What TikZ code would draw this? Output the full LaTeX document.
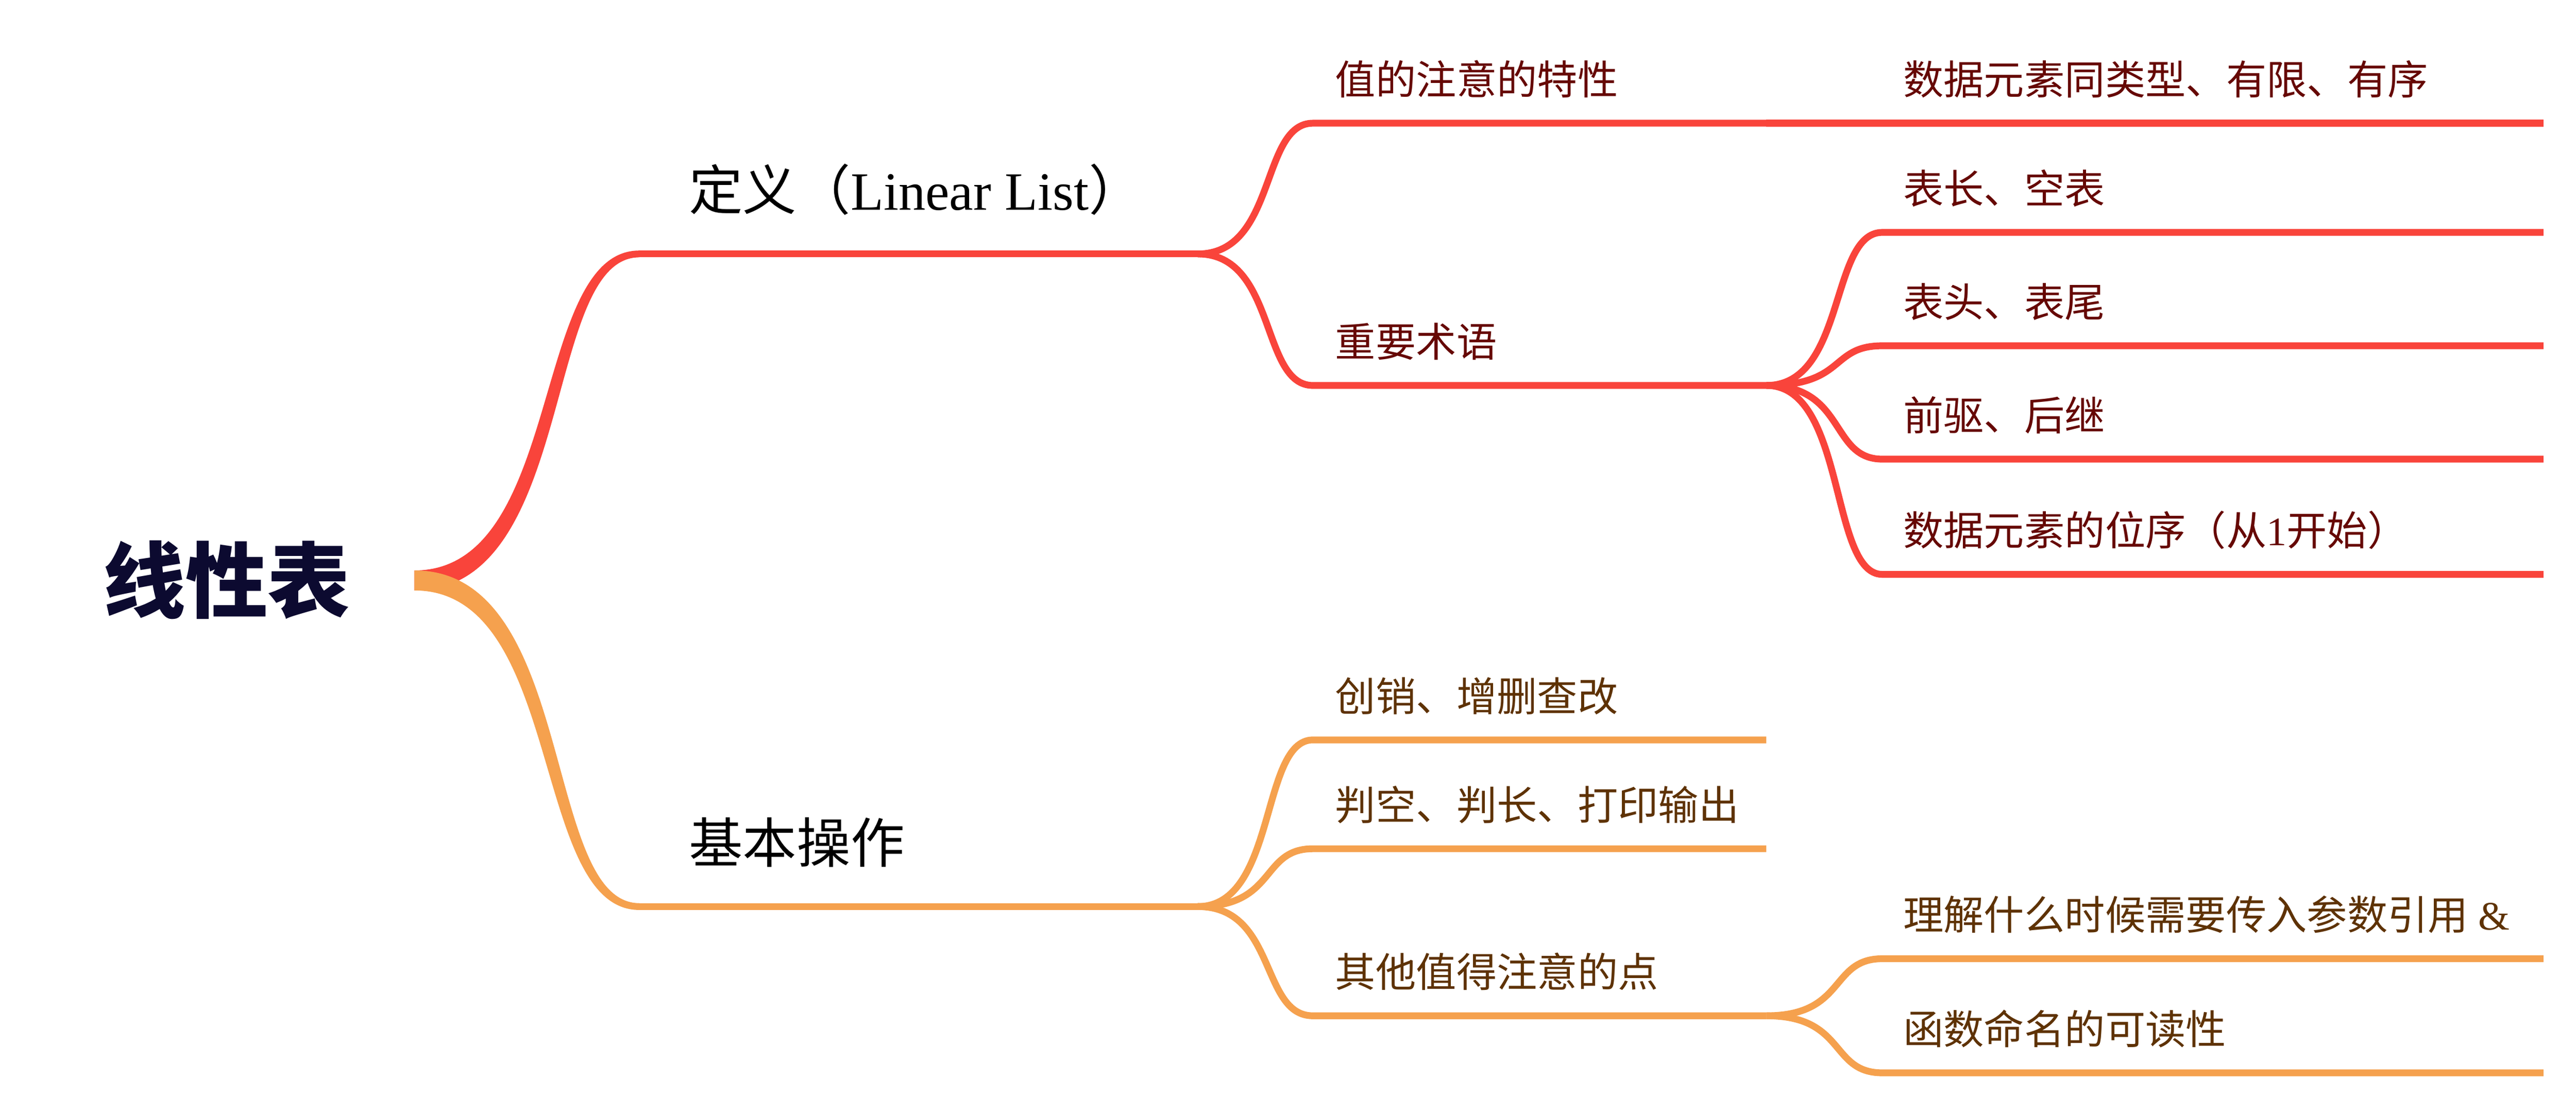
\documentclass[tikz,border=0pt]{standalone}
\usepackage{fontspec}
\setmainfont{Noto Sans CJK SC}
\newfontfamily\enserif{Liberation Serif}
\definecolor{branchred}{RGB}{249,68,59}
\definecolor{branchorange}{RGB}{245,161,78}
\definecolor{textred}{RGB}{102,8,4}
\definecolor{textbrown}{RGB}{94,50,4}
\definecolor{rootnavy}{RGB}{12,10,48}
\tikzset{
  redline/.style={draw=branchred,line width=0.9mm},
  orangeline/.style={draw=branchorange,line width=0.9mm},
  maintopic/.style={anchor=base west,inner sep=0pt,font=\fontsize{20.3}{24}\selectfont},
  subtopic/.style={anchor=base west,inner sep=0pt,font=\fontsize{15.2}{18}\selectfont},
}
\begin{document}
\begin{tikzpicture}
\useasboundingbox (0,0) rectangle (34.09,14.71);
% start and end of every underline
\coordinate (root-e) at (5.485,7.03);
\coordinate (def-s) at (8.46,11.35);   \coordinate (def-e) at (15.85,11.35);
\coordinate (ops-s) at (8.46,2.715);   \coordinate (ops-e) at (15.85,2.715);
\coordinate (val-s) at (17.375,13.08); \coordinate (val-e) at (23.375,13.08);
\coordinate (term-s) at (17.375,9.61); \coordinate (term-e) at (23.375,9.61);
\coordinate (crud-s) at (17.375,4.92); \coordinate (crud-e) at (23.375,4.92);
\coordinate (chk-s) at (17.375,3.48);  \coordinate (chk-e) at (23.375,3.48);
\coordinate (misc-s) at (17.375,1.27); \coordinate (misc-e) at (23.375,1.27);
\coordinate (same-s) at (24.91,13.08); \coordinate (same-e) at (33.66,13.08);
\coordinate (len-s) at (24.91,11.635); \coordinate (len-e) at (33.66,11.635);
\coordinate (head-s) at (24.91,10.135);\coordinate (head-e) at (33.66,10.135);
\coordinate (pred-s) at (24.91,8.635); \coordinate (pred-e) at (33.66,8.635);
\coordinate (pos-s) at (24.91,7.11);   \coordinate (pos-e) at (33.66,7.11);
\coordinate (ref-s) at (24.91,2.025);  \coordinate (ref-e) at (33.66,2.025);
\coordinate (fname-s) at (24.91,0.515);\coordinate (fname-e) at (33.66,0.515);
% root
\node[font=\fontsize{31}{36}\selectfont\bfseries,text=rootnavy] (root) at (3.0,7.04) {线性表};
% tapered main branches
\fill[branchred] ([yshift=1.325mm]root-e) .. controls +(1.98,0) and +(-1.44,0) .. ([yshift=0.45mm]def-s)
  -- ([yshift=-0.45mm]def-s) .. controls +(-1.28,0) and +(2.14,0) .. ([yshift=-1.325mm]root-e) -- cycle;
\fill[branchorange] ([yshift=1.325mm]root-e) .. controls +(2.14,0) and +(-1.28,0) .. ([yshift=0.45mm]ops-s)
  -- ([yshift=-0.45mm]ops-s) .. controls +(-1.44,0) and +(1.98,0) .. ([yshift=-1.325mm]root-e) -- cycle;
\draw[redline] (def-s) -- (def-e);
\draw[orangeline] (ops-s) -- (ops-e);
% second level
\foreach \n in {val,term}
  \draw[redline] (def-e) .. controls +(1.05,0) and +(-0.7,0) .. (\n-s) -- (\n-e);
\foreach \n in {crud,chk,misc}
  \draw[orangeline] (ops-e) .. controls +(1.05,0) and +(-0.7,0) .. (\n-s) -- (\n-e);
% third level
\draw[redline] (val-e) .. controls +(1.06,0) and +(-0.7,0) .. (same-s) -- (same-e);
\foreach \n in {len,head,pred,pos}
  \draw[redline] (term-e) .. controls +(1.06,0) and +(-0.7,0) .. (\n-s) -- (\n-e);
\foreach \n in {ref,fname}
  \draw[orangeline] (misc-e) .. controls +(1.06,0) and +(-0.7,0) .. (\n-s) -- (\n-e);
% labels
\node[maintopic] (def) at ([shift={(0.65,0.58)}]def-s) {定义（{\enserif Linear List}）};
\node[maintopic] (ops) at ([shift={(0.65,0.58)}]ops-s) {基本操作};
\node[subtopic,text=textred] (val) at ([shift={(0.29,0.38)}]val-s) {值的注意的特性};
\node[subtopic,text=textred] (term) at ([shift={(0.29,0.38)}]term-s) {重要术语};
\node[subtopic,text=textred] (same) at ([shift={(0.27,0.38)}]same-s) {数据元素同类型、有限、有序};
\node[subtopic,text=textred] (len) at ([shift={(0.27,0.38)}]len-s) {表长、空表};
\node[subtopic,text=textred] (head) at ([shift={(0.27,0.38)}]head-s) {表头、表尾};
\node[subtopic,text=textred] (pred) at ([shift={(0.27,0.38)}]pred-s) {前驱、后继};
\node[subtopic,text=textred] (pos) at ([shift={(0.27,0.38)}]pos-s) {数据元素的位序（从{\enserif 1}开始）};
\node[subtopic,text=textbrown] (crud) at ([shift={(0.29,0.38)}]crud-s) {创销、增删查改};
\node[subtopic,text=textbrown] (chk) at ([shift={(0.29,0.38)}]chk-s) {判空、判长、打印输出};
\node[subtopic,text=textbrown] (misc) at ([shift={(0.29,0.38)}]misc-s) {其他值得注意的点};
\node[subtopic,text=textbrown] (ref) at ([shift={(0.27,0.38)}]ref-s) {理解什么时候需要传入参数引用{\enserif{} \&}};
\node[subtopic,text=textbrown] (fname) at ([shift={(0.27,0.38)}]fname-s) {函数命名的可读性};
\end{tikzpicture}
\end{document}
